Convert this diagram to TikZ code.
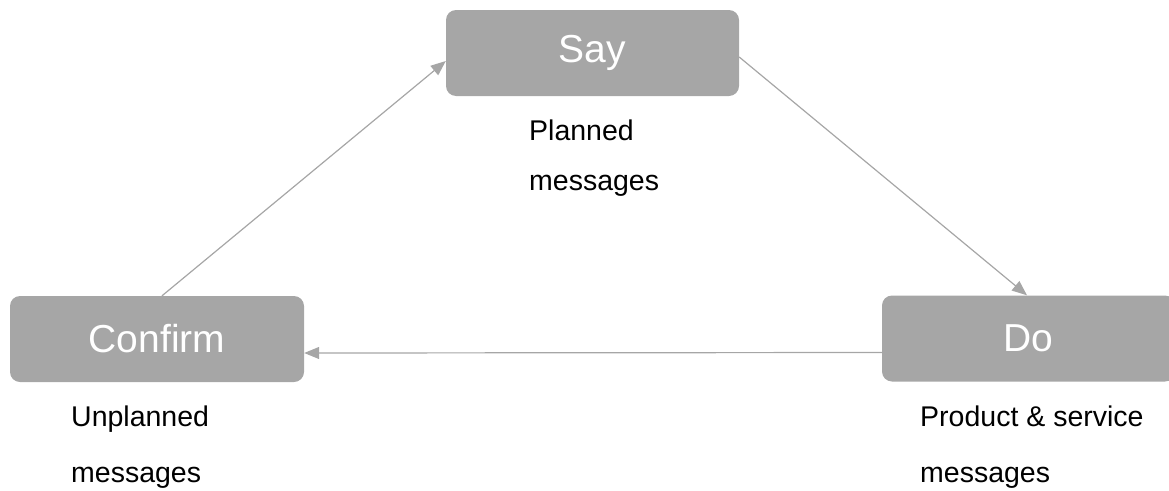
\documentclass[tikz,border=0pt]{standalone}
\usepackage{fontspec}
\setmainfont{Liberation Sans}
\usetikzlibrary{arrows.meta}
\definecolor{boxgray}{HTML}{A6A6A6}
\definecolor{linegray}{HTML}{A6A6A6}
\begin{document}
\begin{tikzpicture}[x=1pt,y=-1pt,
  stage/.style={fill=boxgray, draw=none, rounded corners=10pt, text=white,
    minimum height=86pt, inner sep=0pt, font=\fontsize{39}{39}\selectfont},
  % anchored at the baseline of the last line
  note/.style={anchor=base west, align=left, inner sep=0pt,
    font=\fontsize{28.5}{#1}\selectfont},
  note/.default=50,
  flow/.style={draw=linegray, line width=1.2pt,
    -{Triangle[length=15pt,width=12pt]}}]
  \useasboundingbox (0,0) rectangle (1169,490);

  % three stages
  \node[stage, minimum width=293pt] (say) at (592.5,53) {Say};
  \node[stage, minimum width=294pt] (confirm) at (157,339) {Confirm};
  \node[stage, minimum width=293pt] (do) at (1028.5,338.5) {Do};

  % descriptions under each stage
  \node[note=50] (sayn) at (529,190.7) {Planned\\messages};
  \node[note=55.5] (confirmn) at (71,482.3) {Unplanned\\messages};
  \node[note=55.5] (don) at (920,482) {Product \& service\\messages};

  % cycle of arrows
  \draw[flow] ([xshift=5pt]confirm.north) -- ([yshift=-8pt]say.west);
  \draw[flow] ([yshift=-4pt]say.east) -- ([xshift=-1.5pt]do.north);
  \draw[flow] ([yshift=-14pt]do.west) -- ([yshift=-14pt]confirm.east);
\end{tikzpicture}
\end{document}
